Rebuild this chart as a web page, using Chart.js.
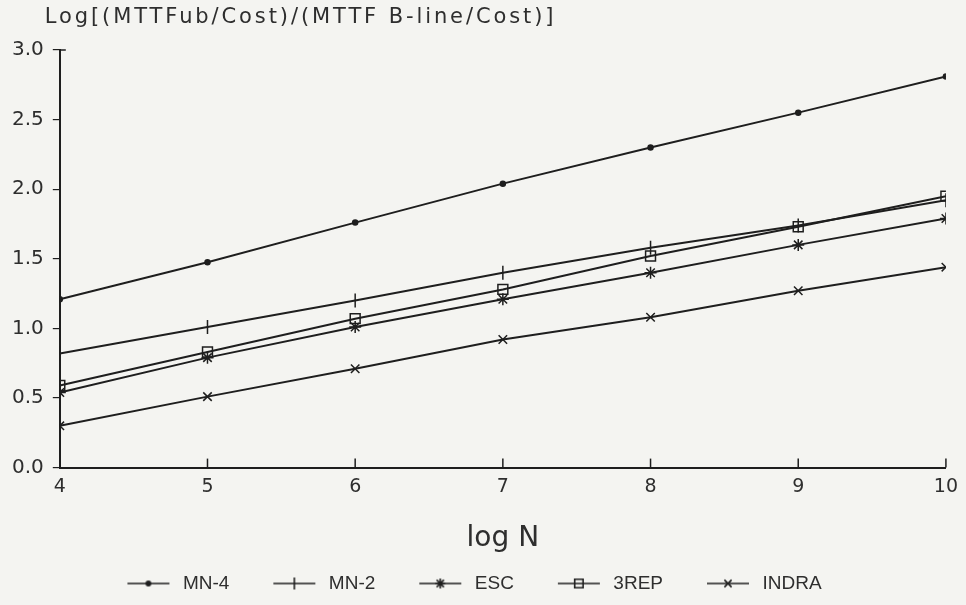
<!DOCTYPE html>
<html>
<head>
<meta charset="utf-8">
<script src="https://cdn.jsdelivr.net/npm/chart.js@4.4.1/dist/chart.umd.min.js"></script>
<style>
  html, body { margin: 0; padding: 0; background: #f4f4f1; }
  #wrap { width: 966px; height: 605px; position: relative; }
</style>
</head>
<body>
<div id="wrap"><canvas id="grafica"></canvas></div>
<script>
// log N en el eje x
const logN = [4, 5, 6, 7, 8, 9, 10];

// series
const mn4 = [1.21, 1.475, 1.76, 2.04, 2.30, 2.55, 2.81];
const mn2 = [0.82, 1.01, 1.20, 1.40, 1.58, 1.74, 1.92];
const esc = [0.54, 0.79, 1.01, 1.21, 1.40, 1.60, 1.79];
const rep3 = [0.59, 0.83, 1.07, 1.28, 1.52, 1.73, 1.95];
const indra = [0.30, 0.51, 0.71, 0.92, 1.08, 1.27, 1.44];

const seriesNames = ["MN-4", "MN-2", "ESC", "3REP", "INDRA"];
const yTickValues = [0, 0.5, 1.0, 1.5, 2.0, 2.5, 3.0];

const yTitle = "Log[(MTTFub/Cost)/(MTTF B-line/Cost)]";
const xTitle = "log N";

const INK = "#1e1e1e";
const TEXT = "#2e2e2e";

const estilos = [
  { pointStyle: "circle", radius: 2.5, rotation: 0, fill: INK },
  { pointStyle: "line", radius: 7, rotation: 90, fill: "transparent" },
  { pointStyle: "star", radius: 6, rotation: 0, fill: "transparent" },
  { pointStyle: "rect", radius: 7, rotation: 0, fill: "transparent" },
  { pointStyle: "crossRot", radius: 6, rotation: 0, fill: "transparent" },
];

function puntos(vals) {
  return logN.map((x, i) => ({ x: x, y: vals[i] }));
}

// icono de leyenda: línea con el marcador en medio
function icono(est) {
  const c = document.createElement("canvas");
  c.width = 82; c.height = 18;
  const g = c.getContext("2d");
  g.strokeStyle = INK; g.fillStyle = est.fill; g.lineWidth = 1.6;
  g.beginPath(); g.moveTo(36, 9); g.lineTo(78, 9); g.stroke();
  Chart.helpers.drawPoint(g, { pointStyle: est.pointStyle, rotation: est.rotation,
    radius: est.radius * 0.85, borderWidth: 1.5 }, 57, 9);
  return c;
}

const valores = [mn4, mn2, esc, rep3, indra];
const datasets = valores.map((v, i) => ({
  label: seriesNames[i],
  data: puntos(v),
  borderColor: INK,
  borderWidth: 2,
  tension: 0,
  pointStyle: estilos[i].pointStyle,
  pointRotation: estilos[i].rotation,
  pointRadius: estilos[i].radius,
  pointBorderWidth: 1.5,
  pointBorderColor: INK,
  pointBackgroundColor: estilos[i].fill,
}));

const iconos = estilos.map(icono);

const extras = {
  id: "extras",
  afterLayout(chart) {
    // la leyenda del original está algo desplazada a la izquierda
    if (chart.legend) { chart.legend.left -= 28; chart.legend.right -= 28; }
  },
  afterDraw(chart) {
    const { ctx, chartArea, scales } = chart;
    ctx.save();
    ctx.strokeStyle = INK;
    ctx.lineWidth = 1.5;
    // marcas del eje x hacia dentro
    scales.x.ticks.forEach(t => {
      const px = scales.x.getPixelForValue(t.value);
      if (t.value === logN[0]) return;
      ctx.beginPath();
      ctx.moveTo(px, chartArea.bottom);
      ctx.lineTo(px, chartArea.bottom - 9);
      ctx.stroke();
    });
    // esquina superior del eje y
    const yTop = scales.y.getPixelForValue(3);
    ctx.beginPath();
    ctx.moveTo(chartArea.left, yTop);
    ctx.lineTo(chartArea.left + 6, yTop);
    ctx.stroke();
    // título del eje y en horizontal
    ctx.fillStyle = TEXT;
    ctx.font = "21px 'DejaVu Sans'";
    if ("letterSpacing" in ctx) ctx.letterSpacing = "2.9px";
    ctx.textAlign = "left";
    ctx.textBaseline = "middle";
    ctx.fillText(yTitle, chartArea.left - 15, 18);
    ctx.restore();
  },
};

document.addEventListener("DOMContentLoaded", function () {
  const ctx = document.getElementById("grafica").getContext("2d");
  new Chart(ctx, {
    type: "line",
    data: { datasets: datasets },
    options: {
      responsive: true,
      maintainAspectRatio: false,
      animation: false,
      layout: { padding: { top: 50, left: 3, right: 0, bottom: 2 } },
      scales: {
        x: {
          type: "linear",
          min: 4,
          max: 10,
          afterBuildTicks: s => { s.ticks = logN.map(v => ({ value: v })); },
          grid: { display: false, drawTicks: false },
          border: { display: true, color: INK, width: 2 },
          ticks: { color: TEXT, font: { family: "DejaVu Sans", size: 19 }, padding: 8 },
          title: {
            display: true,
            text: xTitle,
            color: TEXT,
            font: { family: "DejaVu Sans", size: 28 },
            padding: { top: 16, bottom: 10 },
          },
        },
        y: {
          type: "linear",
          min: 0,
          max: 3,
          afterBuildTicks: s => { s.ticks = yTickValues.map(v => ({ value: v })); },
          grid: { drawOnChartArea: false, drawTicks: true, tickLength: 7, color: INK, lineWidth: 1.2 },
          border: { display: true, color: INK, width: 2 },
          ticks: {
            color: TEXT,
            font: { family: "DejaVu Sans", size: 20 },
            padding: 9,
            callback: v => Number(v).toFixed(1),
          },
        },
      },
      plugins: {
        legend: {
          position: "bottom",
          labels: {
            usePointStyle: true,
            pointStyleWidth: 82,
            padding: 8,
            color: TEXT,
            font: { family: "Liberation Sans", size: 19 },
            generateLabels: chart =>
              Chart.defaults.plugins.legend.labels.generateLabels(chart).map((l, i) => ({
                ...l, pointStyle: iconos[i], rotation: 0, fontColor: TEXT,
              })),
          },
        },
        tooltip: { enabled: false },
      },
    },
    plugins: [extras],
  });
});
</script>
</body>
</html>
